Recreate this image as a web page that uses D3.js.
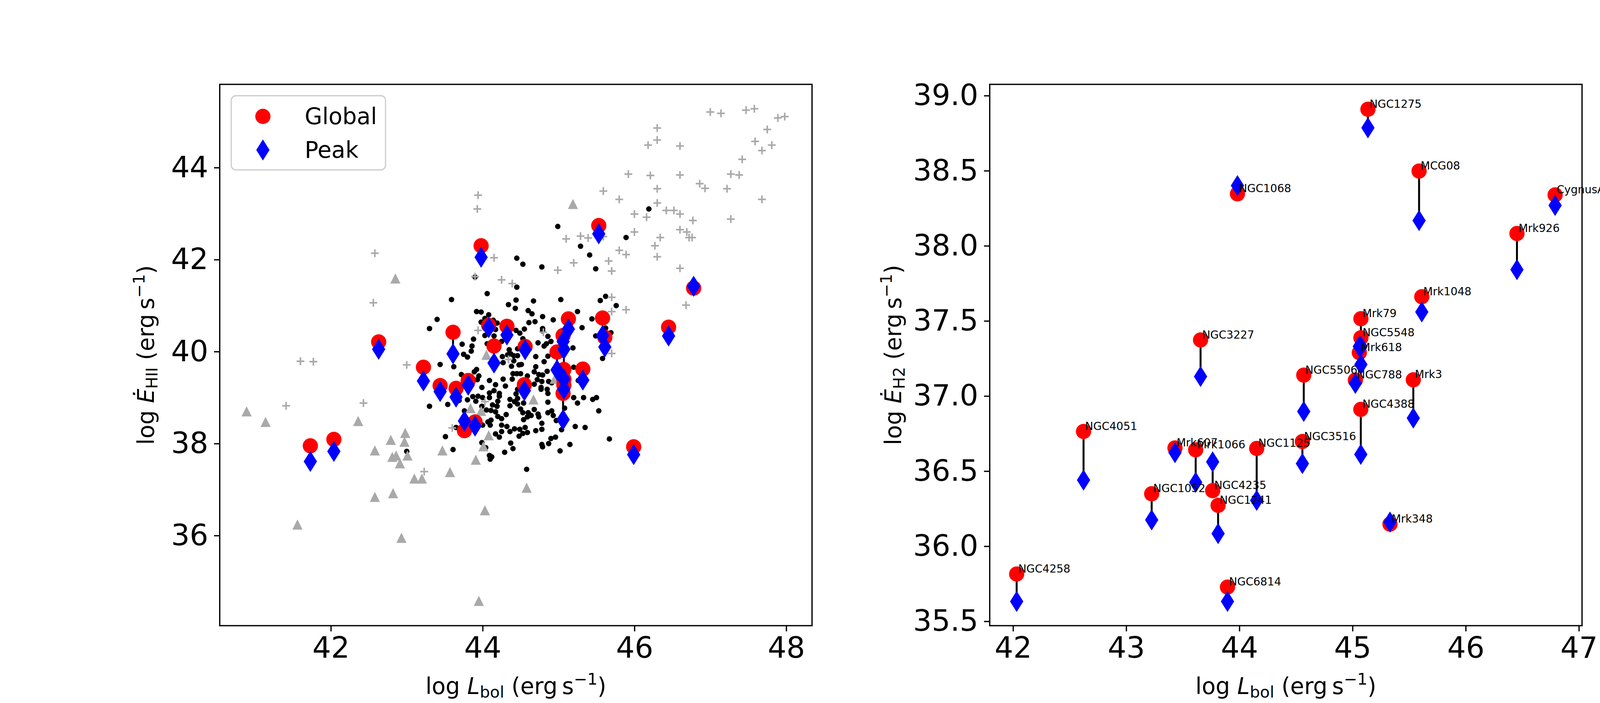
<!DOCTYPE html>
<html><head><meta charset="utf-8">
<script src="https://cdn.jsdelivr.net/npm/d3@7"></script>
<style>body{margin:0;background:#fff}svg{display:block}</style>
</head><body>
<svg id="c" width="4500" height="1800"></svg>
<script>
// ---------- LEFT PANEL DATA ----------
const pairLbol   = [41.73,42.04,42.63,43.22,43.44,43.61,43.65,43.81,43.76,43.90,43.98,44.08,44.15,44.32,44.56,44.55,44.98,45.06,45.07,45.07,45.07,45.06,45.13,45.32,45.53,45.58,45.61,45.99,46.45,46.78];
const pairGlobal = [37.95,38.09,40.21,39.66,39.26,40.42,39.20,39.37,38.28,38.47,42.30,40.57,40.12,40.55,40.11,39.28,39.99,40.35,39.61,39.40,39.27,39.09,40.71,39.62,42.74,40.73,40.31,37.93,40.53,41.38];
const pairPeak   = [37.61,37.83,40.05,39.36,39.13,39.95,39.01,39.27,38.49,38.38,42.05,40.52,39.75,40.36,40.04,39.15,39.60,40.22,40.05,39.40,39.18,38.52,40.49,39.38,42.56,40.35,40.10,37.76,40.34,41.42];

const blackDots = [
[44.99,42.72],[45.89,42.48],[45.29,42.29],[45.41,42.10],[45.49,41.80],[44.45,42.03],[44.53,41.90],[44.78,41.84],
[43.90,41.62],[44.45,41.40],[44.06,41.26],[43.59,41.13],[44.44,41.12],[44.67,41.10],[45.03,41.13],[45.62,41.20],
[45.55,41.11],[45.76,41.00],[44.34,41.02],[44.43,40.94],[43.92,40.87],[43.98,40.86],[44.08,40.80],[44.60,40.89],
[44.65,40.82],[44.79,40.76],[44.93,40.69],[45.25,40.87],[45.44,40.71],[43.40,40.70],[43.30,40.50],[44.61,40.63],
[44.69,40.65],[44.03,40.72],[44.14,40.68],[44.19,40.62],[43.98,40.64],[44.44,40.46],[44.55,40.49],[44.49,40.40],
[44.79,40.50],[44.79,40.45],[44.86,40.33],[44.90,40.22],[44.84,40.17],[44.81,40.12],[44.73,40.19],[45.31,40.52],
[45.49,40.34],[45.69,40.41],[45.62,40.51],[44.17,40.48],[44.03,40.35],[44.15,40.34],[43.88,40.27],[43.73,40.16],
[43.86,40.12],[43.85,40.01],[44.06,40.17],[44.25,40.22],[44.53,40.28],[44.35,40.04],[44.46,40.06],[45.19,40.08],
[43.75,39.94],[43.80,39.88],[43.44,39.72],[43.62,39.67],[44.26,39.89],[44.27,39.76],[44.37,39.95],[44.41,39.91],
[44.46,39.91],[44.41,39.80],[44.33,39.93],[44.38,39.68],[44.48,39.71],[44.51,39.72],[44.70,39.89],[44.86,39.90],
[44.81,39.78],[45.58,39.85],[43.92,39.61],[43.89,39.56],[43.95,39.47],[43.93,39.39],[43.72,39.50],[44.09,39.37],
[44.27,39.40],[44.17,39.28],[44.30,39.25],[43.99,39.22],[44.40,39.52],[44.45,39.52],[44.50,39.52],[44.39,39.40],
[44.59,39.47],[44.70,39.67],[44.68,39.56],[44.74,39.50],[44.79,39.49],[44.85,39.57],[44.72,39.39],[44.78,39.35],
[44.87,39.35],[44.91,39.32],[44.68,39.29],[44.77,39.22],[44.77,39.18],[44.85,39.18],[44.86,39.09],[45.20,39.66],
[45.26,39.37],[44.46,39.18],[44.44,39.08],[44.46,38.98],[44.36,38.96],[44.42,38.91],[44.46,38.86],[44.36,38.82],
[44.54,38.88],[44.09,39.10],[44.15,39.15],[44.22,39.09],[44.22,39.03],[44.09,39.00],[44.20,38.92],[44.13,38.84],
[44.19,38.81],[44.11,38.72],[44.17,38.69],[44.05,38.73],[43.87,39.02],[43.94,39.03],[44.00,39.00],[43.91,38.92],
[43.80,38.95],[43.99,38.81],[43.54,38.85],[43.30,38.81],[43.69,38.94],[43.76,38.71],[44.20,38.59],[44.25,38.54],
[44.31,38.63],[44.07,38.47],[44.11,38.51],[44.10,38.40],[44.00,38.40],[43.65,38.35],[43.51,38.15],[44.25,38.40],
[44.32,38.37],[44.25,38.26],[44.17,38.21],[44.22,38.14],[44.36,38.26],[44.42,38.32],[44.49,38.31],[44.56,38.35],
[44.59,38.24],[44.53,38.22],[44.48,38.16],[44.50,38.75],[44.53,38.67],[44.60,38.67],[44.64,38.61],[44.59,38.58],
[44.54,38.52],[44.68,38.74],[44.73,38.64],[44.74,38.58],[44.78,38.44],[44.78,38.31],[44.70,38.28],[44.86,38.90],
[44.86,38.67],[44.91,38.71],[44.93,38.61],[44.97,38.50],[45.08,38.77],[45.04,38.30],[45.20,39.00],[45.25,38.88],
[45.33,39.00],[45.45,38.96],[45.50,39.00],[45.53,38.71],[45.22,38.37],[45.35,38.35],[45.67,38.10],[44.90,38.11],
[44.96,38.14],[44.87,38.00],[44.78,37.98],[44.79,37.93],[45.15,37.98],[45.02,37.84],[44.37,38.01],[44.40,37.89],
[44.29,37.81],[43.99,38.02],[44.04,37.91],[43.61,37.87],[44.09,37.74],[44.12,37.71],[44.10,37.66],[44.58,37.44],
[46.19,43.10],[43.00,37.83]
];

const grayPlus = [
[47.00,45.21],[47.14,45.18],[47.47,45.25],[47.58,45.28],[47.89,45.08],[47.98,45.11],[46.30,44.86],[46.30,44.60],
[46.18,44.49],[46.60,44.47],[47.75,44.83],[47.59,44.57],[47.81,44.49],[47.68,44.37],[47.42,44.18],[45.92,43.86],
[46.21,43.83],[46.60,43.84],[47.27,43.86],[47.38,43.84],[46.86,43.65],[46.93,43.55],[47.22,43.54],[45.59,43.49],
[46.30,43.54],[45.80,43.31],[46.30,43.23],[47.68,43.31],[46.00,42.99],[46.16,42.92],[46.42,43.07],[46.52,43.07],
[46.60,42.99],[47.27,42.88],[46.77,42.85],[46.00,42.60],[46.34,42.48],[46.27,42.30],[46.30,42.06],[46.60,42.65],
[46.69,42.60],[46.72,42.48],[46.76,42.48],[46.60,41.81],[46.68,41.01],[45.80,42.20],[45.89,42.11],[45.66,41.97],
[45.70,41.75],[45.59,42.50],[45.29,42.51],[45.39,42.47],[45.10,42.45],[45.20,41.93],[44.99,41.77],[43.94,43.40],
[43.93,43.10],[44.15,42.04],[43.90,41.63],[44.25,41.56],[44.39,41.48],[45.70,41.18],[45.89,40.91],[45.70,40.87],
[45.70,39.96],[42.58,42.14],[42.56,41.06],[41.60,39.79],[41.77,39.78],[43.00,39.71],[41.41,38.82],[42.43,38.88],
[43.23,37.39],[43.60,38.34],[43.94,40.46],[44.80,40.42],[44.34,39.83],[44.03,38.91]
];

const grayTri = [
[40.89,38.70],[41.14,38.47],[41.56,36.24],[42.36,38.49],[42.58,37.85],[42.58,36.84],[42.79,38.08],[42.82,36.92],
[42.93,35.95],[42.98,38.23],[42.97,38.04],[43.01,37.74],[42.81,37.71],[42.86,37.74],[42.91,37.57],[43.10,37.24],
[43.20,37.24],[43.47,37.85],[43.57,37.38],[43.91,37.65],[44.03,36.55],[43.95,34.58],[44.58,37.04],[45.19,43.21],
[44.05,39.93],[44.67,38.96],[43.84,38.77],[43.98,38.71],[44.08,38.18],[44.01,37.94],[44.95,39.41],[42.85,41.59]
];

// ---------- RIGHT PANEL DATA ----------
const galNames = ["NGC1275","MCG08","NGC1068","CygnusA","Mrk926","Mrk1048","Mrk79","NGC5548","Mrk618","NGC3227","NGC5506","NGC788","Mrk3","NGC4388","NGC4051","Mrk607","Mrk1066","NGC4235","NGC1125","NGC3516","NGC1052","NGC1241","Mrk348","NGC4258","NGC6814"];
const galLbol   = [45.136,45.588,43.983,46.790,46.453,45.612,45.074,45.074,45.060,43.657,44.569,45.025,45.537,45.073,42.623,43.431,43.614,43.764,44.153,44.557,43.225,43.812,45.331,42.032,43.895];
const galGlobal = [38.909,38.498,38.346,38.339,38.082,37.661,37.515,37.388,37.289,37.373,37.139,37.106,37.108,36.911,36.764,36.654,36.642,36.370,36.651,36.697,36.349,36.272,36.147,35.815,35.728];
const galPeak   = [38.786,38.168,38.401,38.269,37.841,37.560,37.330,37.210,37.330,37.130,36.897,37.084,36.853,36.611,36.440,36.623,36.425,36.562,36.305,36.550,36.175,36.084,36.161,35.632,35.632];

// ---------- AXES SETTINGS ----------
const leftXTicks = [42,44,46,48];
const leftYTicks = [36,38,40,42,44];
const rightXTicks = [42,43,44,45,46,47];
const rightYTicks = [35.5,36.0,36.5,37.0,37.5,38.0,38.5,39.0];
const legendLabels = ["Global","Peak"];

const FONT = "DejaVu Sans, Liberation Sans, sans-serif";
const svg = d3.select("#c");
svg.append("rect").attr("width",4500).attr("height",1800).attr("fill","#fff");

const TOP = 216, BOTTOM = 1602;
const PL = {x0:562.5, x1:2078.8}, PR = {x0:2533.7, x1:4050};
const xL = d3.scaleLinear().domain([40.536,48.34]).range([PL.x0,PL.x1]);
const yL = d3.scaleLinear().domain([34.04,45.81]).range([BOTTOM,TOP]);
const xR = d3.scaleLinear().domain([41.794,47.028]).range([PR.x0,PR.x1]);
const yR = d3.scaleLinear().domain([35.471,39.075]).range([BOTTOM,TOP]);

const RED="#ff0000", BLUE="#0000ff", GRAY="#a9a9a9";
const diamond = "M0,-27L17,0L0,27L-17,0Z";
const tri = "M0,-13L13,13L-13,13Z";

function axes(g, x, y, xt, yt, yfmt){
  const ax = g.append("g").attr("transform",`translate(0,${BOTTOM})`)
    .call(d3.axisBottom(x).tickValues(xt).tickSize(14.6).tickPadding(14.6).tickFormat(d3.format("d")));
  const ay = g.append("g").attr("transform",`translate(${x.range()[0]},0)`)
    .call(d3.axisLeft(y).tickValues(yt).tickSize(14.6).tickPadding(14.6).tickFormat(yfmt));
  [ax,ay].forEach(a=>{
    a.select(".domain").remove();
    a.selectAll(".tick line").attr("stroke","#000").attr("stroke-width",3.3);
    a.selectAll(".tick text").attr("font-family",FONT).attr("font-size",75).attr("fill","#000");
  });
  g.append("rect").attr("x",x.range()[0]).attr("y",TOP)
    .attr("width",x.range()[1]-x.range()[0]).attr("height",BOTTOM-TOP)
    .attr("fill","none").attr("stroke","#000").attr("stroke-width",3.3);
}

function pairs(g, x, y, xs, gs, ps){
  const idx = d3.range(xs.length);
  g.selectAll(null).data(idx).enter().append("line")
    .attr("x1",i=>x(xs[i])).attr("x2",i=>x(xs[i]))
    .attr("y1",i=>y(gs[i])).attr("y2",i=>y(ps[i]))
    .attr("stroke","#000").attr("stroke-width",5);
  g.selectAll(null).data(idx).enter().append("circle")
    .attr("cx",i=>x(xs[i])).attr("cy",i=>y(gs[i])).attr("r",19.5).attr("fill",RED);
  g.selectAll(null).data(idx).enter().append("path")
    .attr("d",diamond).attr("fill",BLUE)
    .attr("transform",i=>`translate(${x(xs[i])},${y(ps[i])})`);
}

// ----- left panel -----
const gl = svg.append("g");
svg.append("clipPath").attr("id","clipL").append("rect")
  .attr("x",PL.x0).attr("y",TOP).attr("width",PL.x1-PL.x0).attr("height",BOTTOM-TOP);
const pl = gl.append("g").attr("clip-path","url(#clipL)");
pl.selectAll(null).data(blackDots).enter().append("circle")
  .attr("cx",d=>xL(d[0])).attr("cy",d=>yL(d[1])).attr("r",7).attr("fill","#000");
pl.selectAll(null).data(grayTri).enter().append("path").attr("d",tri).attr("fill",GRAY)
  .attr("transform",d=>`translate(${xL(d[0])},${yL(d[1])})`);
pl.selectAll(null).data(grayPlus).enter().append("path").attr("d","M-10,0H10M0,-10V10")
  .attr("stroke",GRAY).attr("stroke-width",4).attr("fill","none")
  .attr("transform",d=>`translate(${xL(d[0])},${yL(d[1])})`);
pairs(pl, xL, yL, pairLbol, pairGlobal, pairPeak);
axes(gl, xL, yL, leftXTicks, leftYTicks, d3.format("d"));

// legend
const lg = gl.append("g");
lg.append("rect").attr("x",592).attr("y",245).attr("width",395).attr("height",190).attr("rx",12)
  .attr("fill","#fff").attr("fill-opacity",0.8).attr("stroke","#d0d0d0").attr("stroke-width",3.3);
lg.append("circle").attr("cx",673).attr("cy",298).attr("r",19.5).attr("fill",RED);
lg.append("path").attr("d",diamond).attr("fill",BLUE).attr("transform","translate(673,384)");
lg.selectAll(null).data(legendLabels).enter().append("text")
  .attr("x",780).attr("y",(d,i)=>318+i*86).attr("font-family",FONT).attr("font-size",58).text(d=>d);

// ----- right panel -----
const gr = svg.append("g");
pairs(gr, xR, yR, galLbol, galGlobal, galPeak);
gr.selectAll(null).data(d3.range(galNames.length)).enter().append("text")
  .attr("x",i=>xR(galLbol[i])+4).attr("y",i=>yR(galGlobal[i])-4)
  .attr("font-family",FONT).attr("font-size",28).text(i=>galNames[i]);
axes(gr, xR, yR, rightXTicks, rightYTicks, d3.format(".1f"));

// ----- axis labels -----
function xlabel(cx){
  const t = svg.append("text").attr("x",cx).attr("y",1777).attr("text-anchor","middle")
    .attr("font-family",FONT).attr("font-size",58);
  t.append("tspan").text("log ");
  t.append("tspan").attr("font-style","italic").text("L");
  t.append("tspan").attr("font-size",41).attr("dy",9).text("bol");
  t.append("tspan").attr("dy",-9).text(" (erg\u2009s");
  t.append("tspan").attr("font-size",41).attr("dy",-24).text("\u22121");
  t.append("tspan").attr("dy",24).text(")");
}
function ylabel(bx, sub){
  const cy = (TOP+BOTTOM)/2;
  const t = svg.append("text").attr("transform",`translate(${bx},${cy}) rotate(-90)`)
    .attr("text-anchor","middle").attr("font-family",FONT).attr("font-size",58);
  t.append("tspan").text("log ");
  t.append("tspan").attr("font-style","italic").text("\u0116");
  t.append("tspan").attr("font-size",41).attr("dy",9).text(sub);
  t.append("tspan").attr("dy",-9).text(" (erg\u2009s");
  t.append("tspan").attr("font-size",41).attr("dy",-24).text("\u22121");
  t.append("tspan").attr("dy",24).text(")");
}
xlabel((PL.x0+PL.x1)/2);
xlabel((PR.x0+PR.x1)/2);
ylabel(394, "HII");
ylabel(2307, "H2");
</script>
</body></html>
